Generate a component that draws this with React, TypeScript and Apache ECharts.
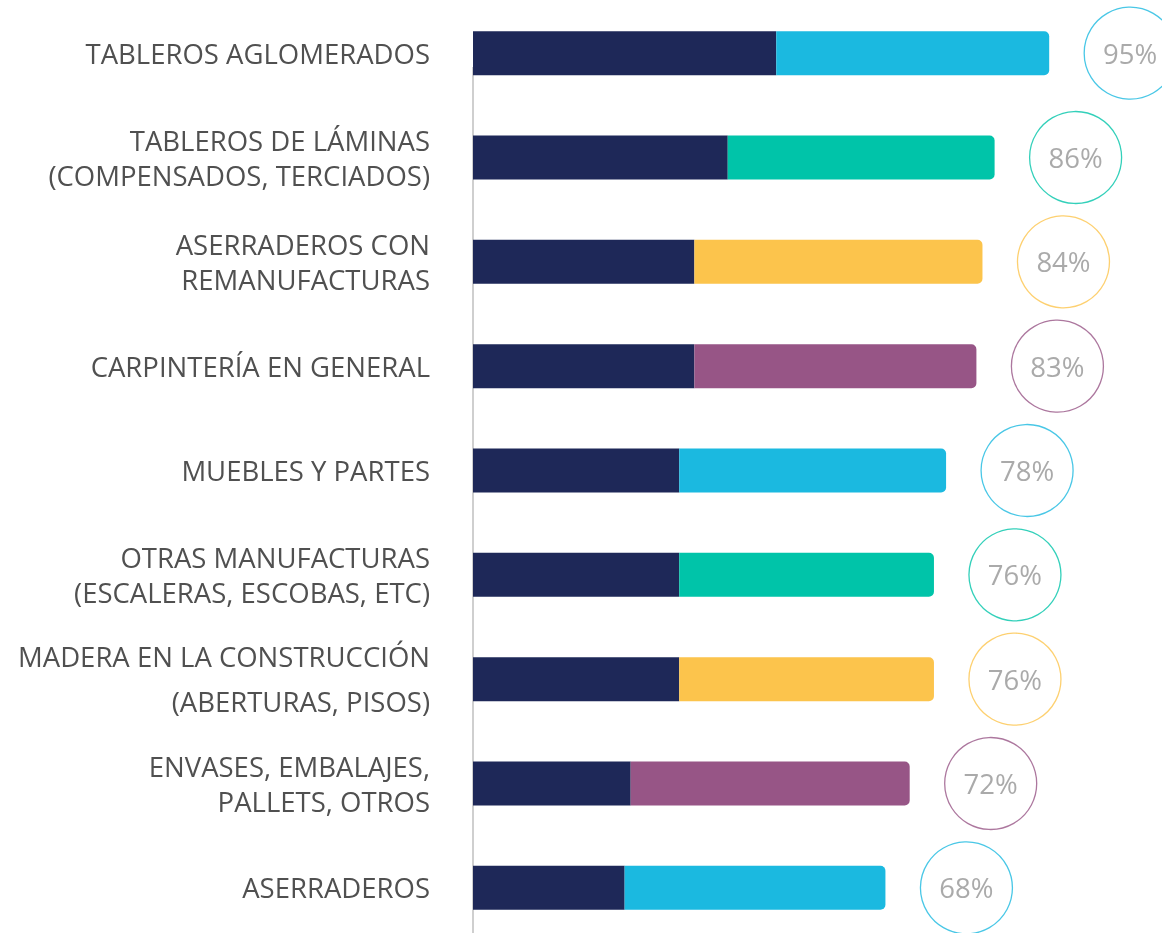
import React, { useEffect, useRef } from "react";
import * as echarts from "echarts";

const categories = [
  "TABLEROS AGLOMERADOS",
  "TABLEROS DE LÁMINAS\n(COMPENSADOS, TERCIADOS)",
  "ASERRADEROS CON\nREMANUFACTURAS",
  "CARPINTERÍA EN GENERAL",
  "MUEBLES Y PARTES",
  "OTRAS MANUFACTURAS\n(ESCALERAS, ESCOBAS, ETC)",
  "MADERA EN LA CONSTRUCCIÓN\n(ABERTURAS, PISOS)",
  "ENVASES, EMBALAJES,\nPALLETS, OTROS",
  "ASERRADEROS",
];
const totals = [95, 86, 84, 83, 78, 76, 76, 72, 68];
const navyPart = [50, 42, 36.5, 36.5, 34, 34, 34, 26, 25];
const accentColors = [
  "#1bb9e0",
  "#00c4a9",
  "#fcc44c",
  "#975586",
  "#1bb9e0",
  "#00c4a9",
  "#fcc44c",
  "#975586",
  "#1bb9e0",
];

export default function App() {
  const ref = useRef<HTMLDivElement>(null);
  useEffect(() => {
    if (!ref.current) return;
    const chart = echarts.init(ref.current, null, { renderer: "svg" });
    const font = "'Open Sans', 'Noto Sans', sans-serif";
    chart.setOption({
      animation: false,
      grid: { left: 473, width: 689, top: 1, height: 939, containLabel: false },
      xAxis: { type: "value", min: 0, max: 113.6, show: false },
      yAxis: {
        type: "category",
        data: categories,
        inverse: true,
        axisLine: { show: false },
        axisTick: { show: false },
        splitLine: { show: false },
        axisLabel: {
          margin: 43,
          fontSize: 27.5,
          color: "#505050",
          fontFamily: font,
          lineHeight: 35,
          formatter: (v: string) => {
            if (v.startsWith("MADERA")) {
              return v
                .split("\n")
                .map((l) => `{w|${l}}`)
                .join("\n");
            }
            return v;
          },
          rich: {
            w: {
              fontSize: 27.5,
              color: "#505050",
              fontFamily: font,
              lineHeight: 45,
            },
          },
        },
      },
      graphic: [
        {
          type: "line",
          shape: { x1: 473, y1: 67, x2: 473, y2: 950 },
          style: { stroke: "#bfbfbf", lineWidth: 1.5 },
          z: 0,
        },
      ],
      series: [
        {
          type: "bar",
          stack: "a",
          barWidth: 44,
          data: navyPart,
          itemStyle: { color: "#1e2858" },
          z: 2,
        },
        {
          type: "bar",
          stack: "a",
          barWidth: 44,
          data: totals.map((t, i) => ({
            value: t - navyPart[i],
            itemStyle: { color: accentColors[i], borderRadius: [0, 5, 5, 0] },
          })),
          z: 2,
        },
        {
          type: "scatter",
          symbol: "circle",
          symbolSize: 92,
          symbolOffset: [81, 0],
          data: totals.map((t, i) => ({
            value: [t, i],
            itemStyle: {
              color: "rgba(255,255,255,0)",
              borderColor: accentColors[i],
              borderWidth: 1.3,
            },
          })),
          label: {
            show: true,
            position: "inside",
            formatter: (p: any) => `${p.value[0]}%`,
            fontSize: 27.5,
            color: "#959595",
            fontFamily: font,
          },
          z: 3,
        },
      ],
    });
    return () => chart.dispose();
  }, []);
  return (
    <div
      style={{
        position: "fixed",
        left: 0,
        top: 0,
        width: 1162,
        height: 933,
        overflow: "hidden",
      }}
    >
      <div ref={ref} style={{ width: 1162, height: 950 }} />
    </div>
  );
}
